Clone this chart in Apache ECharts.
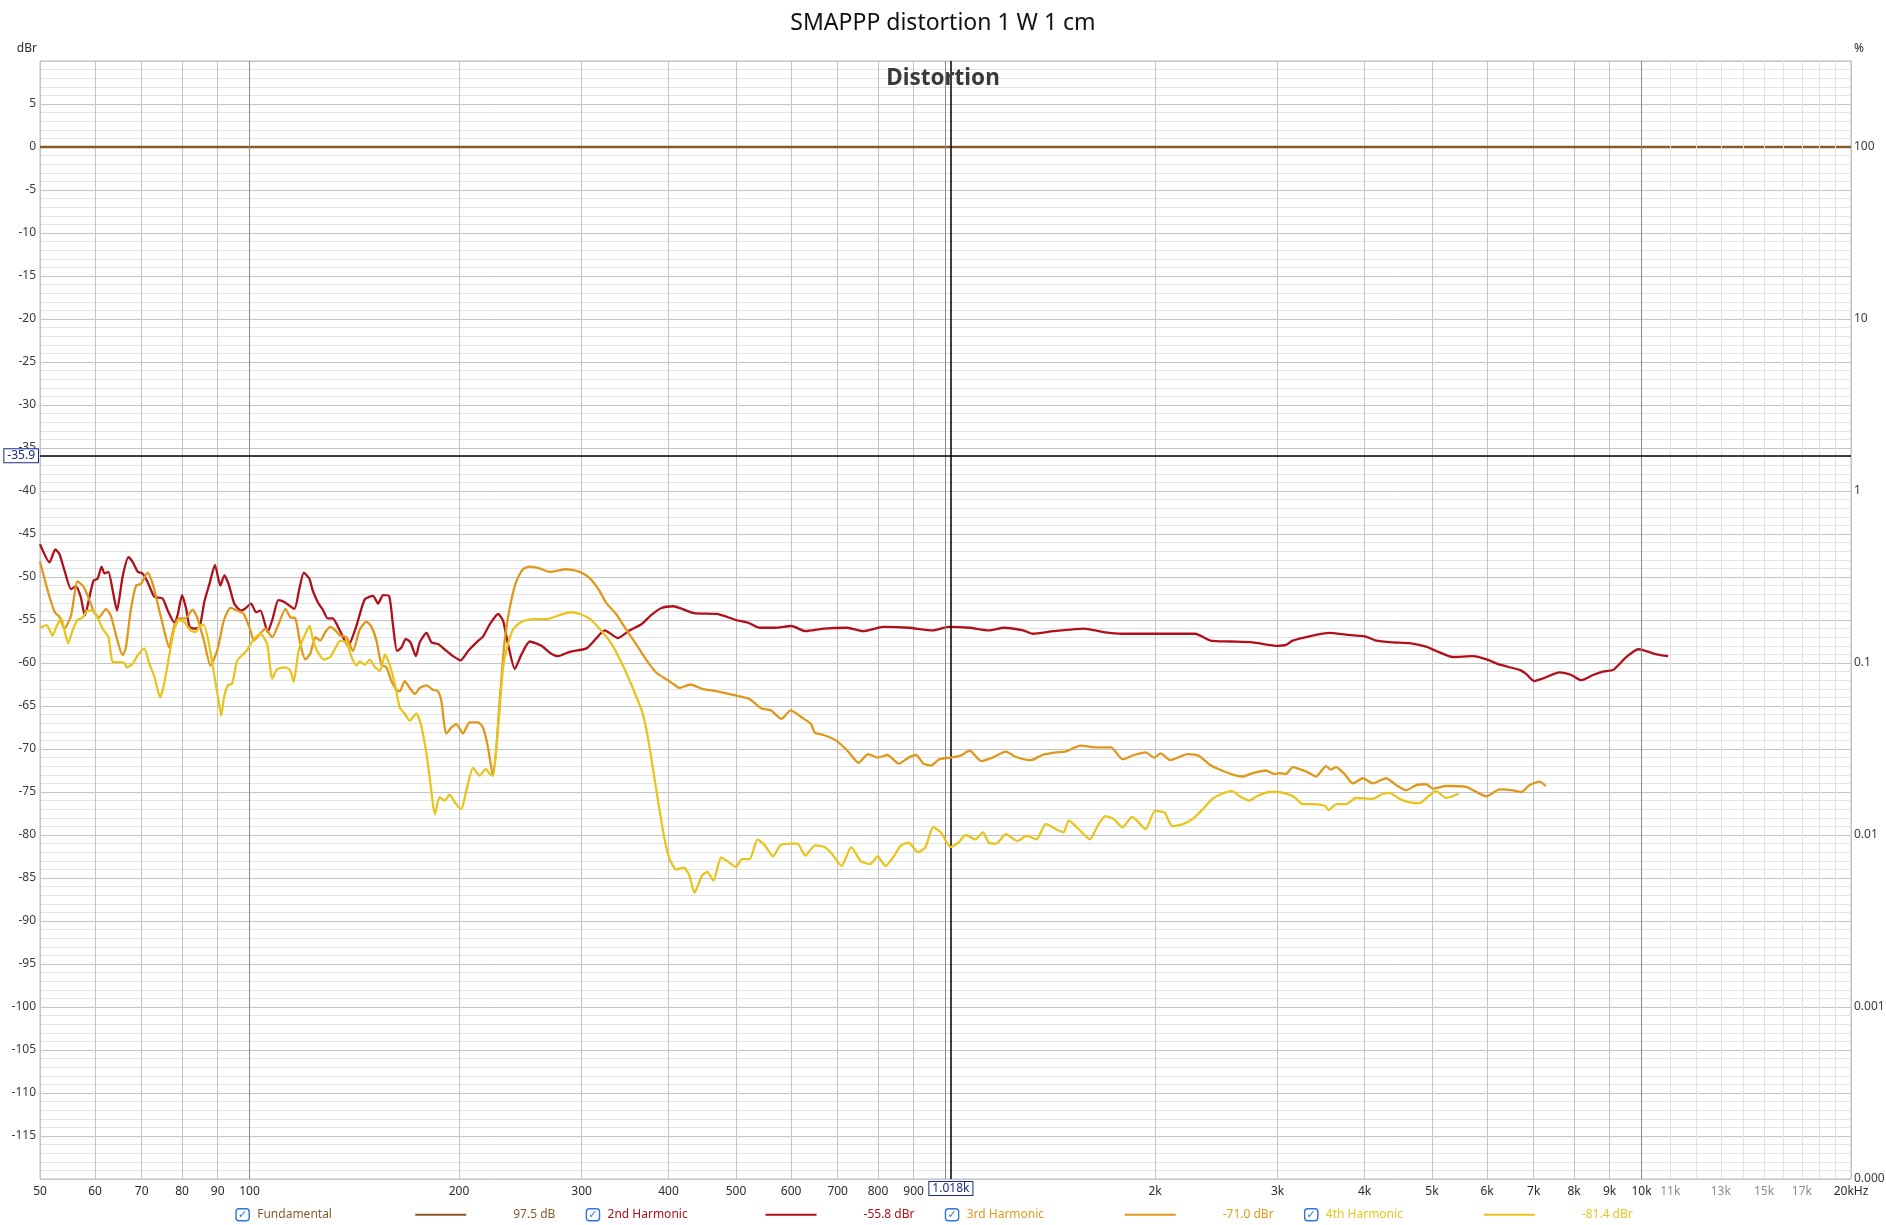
<!DOCTYPE html>
<html><head><meta charset="utf-8">
<script src="https://cdn.jsdelivr.net/npm/echarts@6/dist/echarts.min.js"></script>
<style>html,body{margin:0;padding:0;background:#fff}#c{width:1886px;height:1225px}</style>
</head><body><div id="c"></div>
<script>
const FONT = '"Noto Sans", "DejaVu Sans", sans-serif';
const seriesNames = ['Fundamental', '2nd Harmonic', '3rd Harmonic', '4th Harmonic'];
const seriesColors = ['#8B5A2B', '#B0101A', '#E0981C', '#E8C51E'];
const legendValues = ['97.5 dB', '-55.8 dBr', '-71.0 dBr', '-81.4 dBr'];

const fundamental = [[50, 0], [20000, 0]];

const h2 = [[50,-46.2],[51.6,-48.3],[52.6,-46.8],[53.3,-47.3],[54.2,-49.2],[55.4,-51.4],[56.3,-51.1],[57.2,-52.3],[58.0,-54.5],[58.9,-52.3],[59.7,-50.4],[60.5,-50.2],[61.3,-48.8],[61.9,-49.6],[62.7,-49.4],[63.6,-51.6],[64.5,-53.9],[65.7,-50.0],[67.0,-47.7],[68.0,-48.3],[69.1,-49.4],[70.2,-49.6],[71.4,-50.6],[73.0,-52.3],[75.0,-52.5],[76.3,-53.9],[78.0,-55.3],[78.9,-54.3],[80.0,-52.1],[81.1,-53.7],[82.0,-55.8],[83.4,-56.0],[84.8,-55.8],[86.1,-52.9],[87.6,-50.8],[89.2,-48.6],[90.8,-51.0],[92.0,-49.8],[93.3,-50.8],[95.1,-53.1],[97.2,-53.9],[98.5,-53.7],[100.5,-53.1],[102.2,-54.1],[103.7,-53.9],[106.2,-56.4],[108.0,-54.8],[110.0,-52.7],[112.2,-52.9],[116.0,-53.7],[117.9,-51.4],[119.7,-49.5],[121.9,-50.2],[123.3,-51.6],[125.3,-52.9],[127.4,-53.8],[129.5,-54.8],[131.7,-54.8],[134.6,-56.1],[138.6,-58.0],[142.4,-55.7],[146.4,-52.6],[150.5,-52.2],[153.0,-53.1],[155.6,-52.1],[158.7,-52.2],[160.8,-55.7],[162.9,-58.6],[165.3,-58.2],[167.7,-57.2],[170.3,-57.6],[173.4,-59.2],[175.6,-57.6],[179.6,-56.5],[182.6,-57.6],[186.6,-57.8],[191.9,-58.6],[196.1,-59.2],[201.0,-59.7],[206.1,-58.6],[211.9,-57.6],[216.6,-56.9],[221.4,-55.5],[227.6,-54.3],[231.4,-55.1],[235.2,-57.8],[240.5,-60.7],[245.9,-59.0],[252.7,-57.5],[262.7,-58.0],[270.0,-58.8],[277.5,-59.2],[288.5,-58.7],[304.9,-58.3],[315.1,-57.1],[323.9,-56.2],[338.4,-57.1],[351.8,-56.2],[365.7,-55.5],[378.0,-54.4],[390.8,-53.6],[406.1,-53.4],[435,-54.2],[470,-54.3],[500,-55.0],[520,-55.3],[540,-55.9],[568,-55.9],[601,-55.7],[629,-56.3],[669,-56.0],[722,-55.9],[760,-56.3],[815,-55.8],[885,-55.9],[960,-56.2],[1010,-55.8],[1083,-55.9],[1154,-56.2],[1214,-55.9],[1293,-56.2],[1334,-56.6],[1430,-56.3],[1582,-56.0],[1686,-56.4],[1796,-56.6],[1995,-56.6],[2144,-56.6],[2284,-56.6],[2403,-57.4],[2561,-57.5],[2762,-57.6],[3001,-58.0],[3085,-57.9],[3154,-57.4],[3333,-56.9],[3561,-56.5],[3763,-56.7],[4007,-56.9],[4156,-57.4],[4392,-57.6],[4642,-57.7],[4904,-58.1],[5070,-58.6],[5358,-59.3],[5725,-59.2],[6003,-59.6],[6256,-60.2],[6682,-60.8],[6832,-61.3],[7008,-62.1],[7221,-61.8],[7628,-61.1],[7930,-61.4],[8198,-62.0],[8521,-61.4],[8806,-61.0],[9105,-60.8],[9515,-59.3],[9890,-58.4],[10055,-58.5],[10510,-59.0],[10924,-59.2]];

const h3 = [[50,-48.2],[51.3,-51.6],[52.5,-54.1],[53.3,-54.6],[54.2,-56.0],[55.4,-54.5],[56.6,-50.5],[57.6,-51.0],[58.5,-52.1],[59.8,-54.1],[60.8,-54.7],[62.2,-53.7],[63.2,-54.5],[64.6,-57.4],[65.7,-59.1],[66.4,-58.3],[67.5,-53.9],[68.7,-51.0],[69.8,-50.8],[71.4,-49.5],[72.6,-50.8],[73.8,-53.1],[75.4,-56.2],[76.6,-58.2],[77.9,-55.8],[79.2,-54.8],[81.0,-54.8],[82.8,-53.8],[84.2,-54.8],[86.0,-57.4],[87.9,-60.3],[89.9,-58.5],[91.9,-55.0],[93.9,-53.6],[96.0,-53.9],[98.1,-54.3],[100.3,-56.2],[101.4,-57.4],[103.1,-56.8],[105.4,-56.0],[107.8,-57.0],[110.2,-55.4],[112.6,-53.7],[114.5,-54.7],[116.4,-54.8],[118.3,-57.8],[120.3,-59.6],[122.3,-58.9],[124.3,-57.0],[126.4,-57.4],[128.5,-56.4],[130.6,-55.8],[132.8,-56.2],[135.0,-56.8],[137.8,-57.0],[140.8,-58.6],[144.0,-56.1],[147.2,-55.2],[149.7,-55.8],[152.2,-57.4],[154.7,-60.2],[157.3,-60.5],[159.9,-62.1],[162.6,-63.1],[164.4,-63.3],[167.1,-62.1],[169.9,-62.9],[172.8,-63.6],[175.6,-62.9],[179.6,-62.6],[183.5,-63.1],[186.6,-63.3],[188.6,-64.4],[191.8,-68.2],[195.0,-67.5],[198.3,-67.1],[202.6,-68.2],[207.1,-66.9],[212.9,-66.9],[216.5,-67.5],[220.1,-69.8],[223.8,-73.1],[226.3,-69.8],[228.8,-64.4],[232.6,-57.4],[236.5,-53.6],[241.7,-50.5],[247.1,-49.1],[252.6,-48.8],[261.1,-49.0],[269.9,-49.4],[285.1,-49.1],[298.0,-49.4],[307.9,-50.1],[318.3,-51.6],[325.4,-53.0],[336.3,-54.3],[347.6,-56.1],[359.3,-57.8],[371.4,-59.6],[383.9,-61.1],[399.1,-62.0],[405.8,-62.4],[414.8,-62.9],[430,-62.5],[447,-63.0],[470,-63.3],[501,-63.8],[523,-64.2],[544,-65.3],[561,-65.5],[581,-66.5],[599,-65.5],[621,-66.3],[641,-67.1],[649,-68.1],[670,-68.4],[696,-69.0],[723,-70.2],[750,-71.6],[774,-70.6],[799,-71.0],[825,-70.7],[857,-71.7],[885,-71.0],[907,-70.7],[930,-71.7],[954,-71.9],[979,-71.2],[1017,-71.0],[1049,-70.8],[1083,-70.2],[1125,-71.4],[1168,-71.0],[1221,-70.3],[1260,-70.9],[1326,-71.3],[1377,-70.7],[1440,-70.4],[1486,-70.3],[1563,-69.6],[1644,-69.8],[1729,-69.8],[1796,-71.2],[1866,-70.7],[1939,-70.4],[1995,-71.0],[2038,-70.5],[2104,-71.3],[2227,-70.6],[2313,-70.8],[2403,-71.9],[2496,-72.5],[2592,-73.0],[2676,-73.2],[2762,-72.8],[2887,-72.5],[2968,-72.9],[3018,-72.8],[3085,-72.9],[3154,-72.1],[3242,-72.4],[3333,-72.8],[3407,-73.2],[3522,-72.0],[3581,-72.4],[3641,-72.1],[3743,-72.9],[3848,-74.0],[3977,-73.4],[4111,-74.0],[4297,-73.4],[4442,-74.2],[4592,-74.8],[4746,-74.2],[4904,-74.1],[5014,-74.6],[5242,-74.3],[5602,-74.4],[5789,-75.0],[5984,-75.5],[6256,-74.7],[6536,-74.8],[6719,-75.0],[6907,-74.2],[7139,-73.8],[7283,-74.3]];

const h4 = [[50,-55.9],[51.1,-55.6],[52.1,-56.8],[52.9,-55.6],[53.7,-54.8],[54.2,-56.2],[54.9,-57.7],[55.7,-56.2],[56.6,-55.0],[57.6,-54.7],[58.5,-53.9],[59.6,-53.9],[60.5,-54.7],[61.5,-56.0],[62.7,-57.0],[63.6,-59.9],[64.6,-59.9],[66.1,-60.0],[66.6,-60.5],[67.9,-60.1],[69.1,-59.1],[70.6,-58.3],[71.8,-60.1],[73.0,-61.6],[74.4,-64.0],[75.4,-62.4],[76.6,-59.3],[77.9,-56.2],[79.2,-55.0],[80.5,-55.2],[82.3,-56.2],[83.7,-56.4],[85.1,-55.6],[86.0,-55.6],[87.5,-57.9],[88.9,-61.2],[90.4,-64.7],[91.1,-66.1],[91.9,-64.0],[93.1,-62.6],[94.4,-62.4],[96.0,-59.7],[97.6,-59.1],[99.2,-58.5],[101.4,-57.2],[103.7,-56.6],[106.0,-57.8],[107.8,-61.8],[109.6,-60.7],[112.6,-60.5],[114.5,-60.9],[115.7,-62.2],[117.7,-58.5],[119.7,-57.0],[122.0,-55.7],[123.6,-57.6],[125.7,-58.9],[127.8,-59.6],[130.6,-59.3],[132.8,-58.3],[135.0,-57.4],[137.8,-57.6],[140.0,-59.2],[142.4,-60.3],[144.0,-59.8],[146.4,-60.2],[148.9,-59.6],[151.4,-60.5],[154.0,-60.9],[156.6,-59.0],[159.1,-60.3],[161.8,-62.5],[164.4,-65.2],[167.1,-65.9],[169.9,-66.7],[173.7,-65.9],[176.6,-67.4],[179.6,-70.6],[182.0,-74.1],[184.6,-77.6],[187.6,-75.6],[190.7,-76.0],[193.9,-75.3],[197.2,-76.2],[201.5,-77.0],[204.8,-74.9],[209.5,-72.2],[214.2,-73.1],[218.5,-72.3],[221.4,-72.9],[223.8,-73.1],[227.6,-67.5],[231.4,-60.5],[235.2,-57.8],[239.2,-56.1],[245.9,-55.2],[255.5,-54.9],[267.1,-54.9],[279.6,-54.4],[289.3,-54.1],[298.5,-54.3],[308.7,-54.9],[319.0,-56.1],[330.2,-57.6],[341.6,-59.8],[353.6,-62.5],[366.3,-65.6],[372.9,-68.3],[379.7,-72.2],[386.5,-76.1],[393.5,-79.9],[400.6,-82.6],[410.2,-84.0],[421,-83.8],[428,-84.6],[436,-86.7],[447,-84.7],[455,-84.3],[464,-85.3],[476,-82.6],[485,-83.0],[500,-83.7],[510,-82.8],[523,-82.8],[537,-80.5],[550,-81.2],[565,-82.5],[579,-81.2],[598,-81.0],[613,-81.0],[629,-82.4],[649,-81.2],[670,-81.4],[687,-82.2],[709,-83.6],[732,-81.4],[755,-83.0],[779,-83.4],[799,-82.5],[820,-83.6],[841,-82.6],[863,-81.2],[885,-80.9],[913,-82.0],[936,-81.4],[960,-79.1],[985,-79.7],[1017,-81.4],[1043,-80.9],[1069,-80.0],[1104,-80.5],[1132,-79.7],[1154,-80.9],[1183,-81.0],[1221,-79.9],[1268,-80.7],[1309,-80.1],[1351,-80.5],[1394,-78.7],[1440,-79.3],[1477,-79.7],[1504,-78.3],[1553,-79.3],[1612,-80.5],[1655,-78.9],[1697,-77.8],[1742,-78.1],[1796,-79.1],[1854,-77.9],[1939,-79.3],[2000,-77.2],[2065,-77.4],[2118,-79.0],[2198,-78.7],[2269,-78.1],[2342,-77.0],[2418,-75.8],[2496,-75.2],[2577,-74.9],[2660,-75.6],[2728,-76.0],[2815,-75.4],[2922,-75.0],[3001,-75.0],[3085,-75.2],[3172,-75.6],[3262,-76.4],[3381,-76.4],[3506,-76.6],[3552,-77.1],[3645,-76.4],[3763,-76.4],[3889,-75.7],[4111,-75.8],[4249,-75.2],[4344,-75.1],[4493,-75.8],[4642,-76.2],[4798,-76.3],[4958,-75.4],[5070,-74.9],[5242,-75.7],[5460,-75.2]];

const xTickValues = [50,60,70,80,90,100,200,300,400,500,600,700,800,900,1000,2000,3000,4000,5000,6000,7000,8000,9000,10000,20000];
const xLabelValues = [50,60,70,80,90,100,200,300,400,500,600,700,800,900,2000,3000,4000,5000,6000,7000,8000,9000,10000,11000,13000,15000,17000,20000];
const xLightGridValues = [11000,12000,13000,14000,15000,16000,17000,18000,19000];
const xDarkGridValues = [100,1000,10000];
const percentLabels = [-120,-100,-80,-60,-40,-20,0];
const cursorFreq = 1018;
const cursorLevel = -35.9;

const chart = echarts.init(document.getElementById('c'), null, {renderer: 'canvas'});

const rich = {
  cb: {align: 'left', verticalAlign: 'middle', padding: [1, 2, 0, 2], lineHeight: 12, borderColor: '#2A78DC', borderWidth: 1.4, borderRadius: 3, color: '#2A78DC', fontSize: 11, fontWeight: 'bold', fontFamily: FONT},
  sp: {width: 8, align: 'left'},
  sp2: {width: 47, align: 'left'}
};
seriesColors.forEach((c, i) => {
  rich['n' + i] = {width: 158, align: 'left', color: c, fontSize: 12, fontFamily: FONT};
  rich['ln' + i] = {width: 51, height: 2, align: 'left', backgroundColor: c};
  rich['v' + i] = {width: 74, align: 'left', color: c, fontSize: 12, fontFamily: FONT};
});

function fmtFreq(v) {
  if (v >= 20000) return '20kHz';
  if (v >= 1000) return (v / 1000) + 'k';
  return String(v);
}

const lineSeries = [fundamental, h2, h3, h4].map((d, i) => ({
  type: 'line', name: seriesNames[i], data: d, z: 3 + i,
  symbol: 'none', showSymbol: false, smooth: i === 0 ? false : 0.2,
  lineStyle: {color: seriesColors[i], width: 2.3},
  itemStyle: {color: seriesColors[i]},
  emphasis: {disabled: true}, silent: true
}));

const boxLabel = {show: true, position: 'start', color: '#1A2A8A', backgroundColor: '#fff', borderColor: '#1A2A8A', borderWidth: 1, padding: [1, 3, 0, 3], fontSize: 12, fontFamily: FONT};

const option = {
  animation: false,
  backgroundColor: '#fff',
  textStyle: {fontFamily: FONT},
  title: [
    {text: 'SMAPPP distortion 1 W 1 cm', left: 'center', top: 7, textStyle: {fontSize: 23, fontWeight: 'normal', color: '#111', fontFamily: FONT}},
    {text: 'Distortion', left: 'center', top: 62, textStyle: {fontSize: 22.5, fontWeight: 'bold', color: '#3A3A3A', fontFamily: FONT}}
  ],
  grid: {left: 40, right: 35, top: 61, bottom: 46, outerBoundsMode: 'none', containLabel: false, show: true, borderColor: '#BDBDBD', borderWidth: 1},
  legend: {
    left: 226, top: 1203, orient: 'horizontal', icon: 'rect', itemWidth: 0, itemHeight: 0, itemGap: 26,
    itemStyle: {opacity: 0}, selectedMode: false,
    data: seriesNames,
    formatter: name => {
      const i = seriesNames.indexOf(name);
      return '{cb|✓}{sp| }{n' + i + '|' + name + '}{ln' + i + '| }{sp2| }{v' + i + '|' + legendValues[i] + '}';
    },
    textStyle: {rich: rich, fontFamily: FONT, fontSize: 12}
  },
  xAxis: {
    type: 'log', logBase: 10, min: 50, max: 20000,
    axisLine: {show: false},
    axisTick: {show: false, customValues: xTickValues},
    axisLabel: {customValues: xLabelValues, formatter: fmtFreq, fontSize: 12, margin: 7, fontFamily: FONT,
      color: v => (v > 10000 && v < 20000) ? '#8C8C8C' : '#2A2A2A'},
    splitLine: {show: true, lineStyle: {color: '#C4C4C4', width: 1}}
  },
  yAxis: [
    {type: 'value', min: -120, max: 10, interval: 5, position: 'left',
      name: 'dBr', nameLocation: 'end', nameGap: 6,
      nameTextStyle: {align: 'right', verticalAlign: 'bottom', color: '#2A2A2A', fontSize: 12, padding: [0, 3, 0, 0], fontFamily: FONT},
      axisLine: {show: false}, axisTick: {show: false},
      axisLabel: {showMinLabel: false, showMaxLabel: false, color: '#3A3A3A', fontSize: 12, margin: 4, fontFamily: FONT},
      splitLine: {show: true, lineStyle: {color: '#C4C4C4', width: 1}},
      minorTick: {show: false, splitNumber: 5},
      minorSplitLine: {show: true, lineStyle: {color: '#E3E3E3', width: 1}}
    },
    {type: 'value', min: -120, max: 10, interval: 20, position: 'right',
      name: '%', nameLocation: 'end', nameGap: 6,
      nameTextStyle: {align: 'left', verticalAlign: 'bottom', color: '#2A2A2A', fontSize: 12, padding: [0, 0, 0, 3], fontFamily: FONT},
      axisLine: {show: false}, axisTick: {show: false}, splitLine: {show: false},
      axisLabel: {customValues: percentLabels, color: '#3A3A3A', fontSize: 12, margin: 3, fontFamily: FONT,
        formatter: v => String(Number((100 * Math.pow(10, v / 20)).toPrecision(1)))}
    }
  ],
  series: [
    {type: 'line', name: '_grid', data: [], z: 1, silent: true,
      markLine: {silent: true, symbol: 'none', animation: false, label: {show: false}, emphasis: {disabled: true},
        data: xLightGridValues.map(v => ({xAxis: v, lineStyle: {color: '#E2E2E2', width: 1, type: 'solid'}}))
          .concat(xDarkGridValues.map(v => ({xAxis: v, lineStyle: {color: '#8A8A8A', width: 1, type: 'solid'}})))}
    }
  ].concat(lineSeries).concat([
    {type: 'line', name: '_cursor', data: [], z: 10, silent: true,
      markLine: {silent: true, symbol: 'none', animation: false, emphasis: {disabled: true},
        data: [
          {xAxis: cursorFreq, lineStyle: {color: '#000', width: 1.5, type: 'solid'},
            label: Object.assign({}, boxLabel, {distance: 3, formatter: () => (cursorFreq / 1000).toFixed(3) + 'k'})},
          {yAxis: cursorLevel, lineStyle: {color: '#000', width: 1.5, type: 'solid'},
            label: Object.assign({}, boxLabel, {distance: 2, formatter: () => cursorLevel.toFixed(1)})}
        ]}
    }
  ])
};
chart.setOption(option);
</script></body></html>
